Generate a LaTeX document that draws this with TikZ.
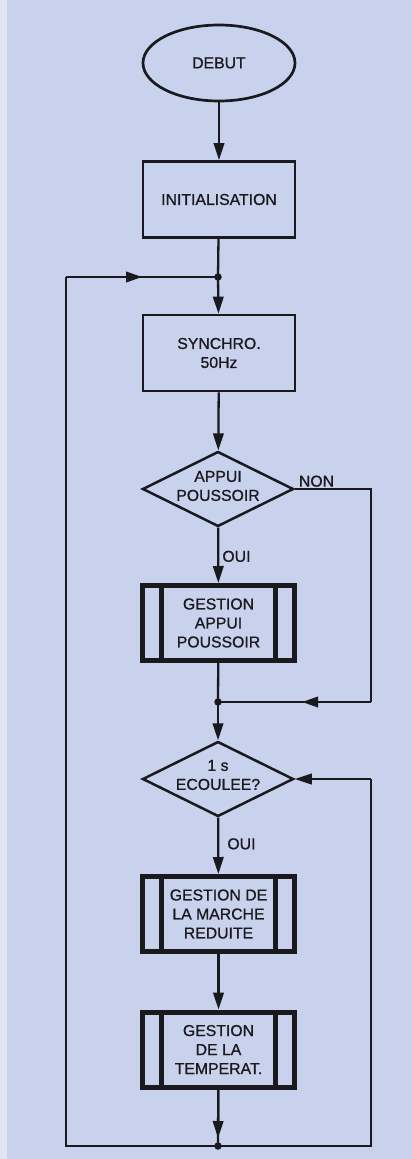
\documentclass[tikz,border=0pt]{standalone}
\usepackage{fontspec}
\setmainfont{Liberation Sans}[FakeBold=0.5]
\newfontfamily\diagfont{Liberation Sans}[FakeBold=0.8]
\usetikzlibrary{shapes.geometric,arrows.meta,decorations.markings}
\definecolor{bg}{RGB}{200,210,236}
\definecolor{ink}{RGB}{25,25,30}
\begin{document}
\begin{tikzpicture}[x=1pt,y=-1pt,
  every node/.style={font=\diagfont\fontsize{15.8}{19}\selectfont, text=ink},
  line/.style={draw=ink, line width=2.3pt},
  arr/.style={line, -{Triangle[length=17pt,width=10.5pt]}},
  term/.style={ellipse, draw=ink, line width=2.7pt, minimum width=152pt, minimum height=76pt, inner sep=0pt},
  proc/.style={rectangle, draw=ink, line width=2.7pt, minimum width=152pt, minimum height=76pt, align=center},
  dec/.style={diamond, draw=ink, line width=2.5pt, minimum width=151pt, minimum height=75pt, inner sep=0pt},
  dectext/.style={align=center, inner sep=0pt},
  subproc/.style={rectangle, draw=ink, line width=5pt, minimum width=152pt, minimum height=75pt, align=center},
  bar/.style={draw=ink, line width=4.2pt},
  dot/.style={circle, fill=ink, inner sep=0pt, minimum size=7.5pt},
  midarr/.style={postaction={decorate}, decoration={markings, mark=at position #1 with {\arrow{Triangle[length=16pt,width=10.5pt]}}}},
  lbl/.style={inner sep=0pt, anchor=west},
]
\fill[bg] (0,0) rectangle (412,1159);
\fill[white!45!bg] (0,0) rectangle (7,1159);

% nodes
\node[term] (debut) at (219,63) {DEBUT};
\node[proc] (init) at (219,199.5) {INITIALISATION};
\coordinate (j1) at (218,277);
\node[proc] (sync) at (219,353) {SYNCHRO.\\50Hz};
\node[dec, label={[dectext, yshift=3pt]center:{APPUI\\POUSSOIR}}] (q1) at (218,489) {};
\node[subproc] (gap) at (218.5,623) {GESTION\\APPUI\\POUSSOIR};
\coordinate (j2) at (218,702);
\node[dec, label={[dectext, yshift=4pt]center:{1 s\\ECOULEE?}}] (q2) at (218,779) {};
\node[subproc] (gmr) at (218.5,914) {GESTION DE\\LA MARCHE\\REDUITE};
\node[subproc] (gt) at (218.5,1049.5) {GESTION\\DE LA\\TEMPERAT.};
\coordinate (j3) at (218,1146);
\coordinate (cl1) at (66,277);
\coordinate (cl2) at (66,1146);
\coordinate (cr1) at (371,489);
\coordinate (cr2) at (371,702);
\coordinate (cr3) at (371,779);
\coordinate (cr4) at (371,1146);

% sub-process bars
\foreach \n in {gap,gmr,gt}{
  \draw[bar] ([xshift=21.5pt]\n.north west) -- ([xshift=21.5pt]\n.south west);
  \draw[bar] ([xshift=-21.5pt]\n.north east) -- ([xshift=-21.5pt]\n.south east);
}

% connectors
\draw[arr] (debut) -- (init);
\draw[line] (init) -- (j1);
\draw[arr] (j1) -- (sync);
\draw[arr] (sync) -- (q1);
\draw[arr] (q1) -- node[lbl, xshift=3pt, yshift=-1pt] (oui1) {OUI} (gap);
\draw[line] (gap) -- (j2);
\draw[arr] (j2) -- (q2);
\draw[arr] (q2) -- node[lbl, xshift=8pt, yshift=2pt] (oui2) {OUI} (gmr);
\draw[arr] (gmr) -- (gt);
\draw[line] (gt) -- (j3);
\draw[arr, shorten >=8pt] (gt) -- (j3);

\draw[line] (q1.east) -- (cr1) -- (cr2);
\draw[line, midarr=0.45] (cr2) -- (j2);
\node[lbl, above right] (non) at ([xshift=4pt,yshift=2pt]q1.east) {NON};

\draw[line] (j3) -- (cl2) -- (cl1);
\draw[line, midarr=0.5] (cl1) -- (j1);

\draw[line] (j3) -- (cr4) -- (cr3);
\draw[arr] (cr3) -- (q2.east);

\node[dot] (d1) at (j1) {};
\node[dot] (d2) at (j2) {};
\node[dot] (d3) at (j3) {};
\end{tikzpicture}
\end{document}
